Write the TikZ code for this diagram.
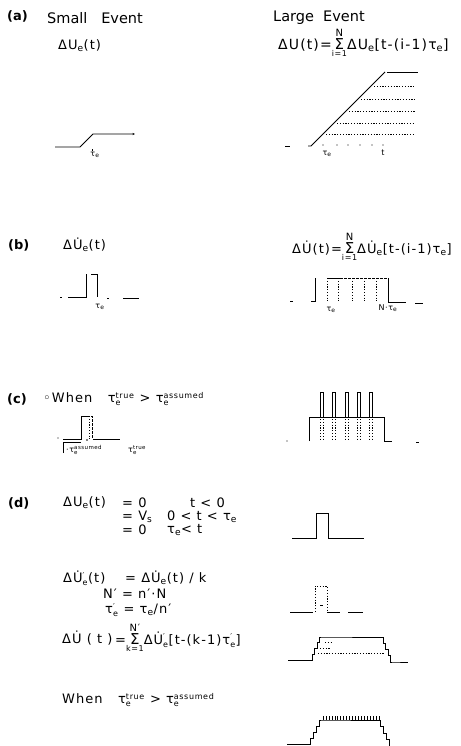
\documentclass[tikz,border=0pt]{standalone}
\usepackage{fontspec}
\setmainfont{DejaVu Sans}
\newfontfamily\ff[LetterSpace=8]{DejaVu Sans}
\usetikzlibrary{arrows.meta}
\newcommand{\sbx}[1]{\textsubscript{#1}}
\newcommand{\spsb}[2]{$^{\hbox{\fontsize{8}{8}\selectfont #1}}_{\hbox{\fontsize{8}{8}\selectfont #2}}$}
\newcommand{\spsbs}[2]{$^{\hbox{\fontsize{5.5}{6}\selectfont #1}}_{\hbox{\fontsize{5.5}{6}\selectfont #2}}$}
\newcommand{\lsum}[2]{$\mathop{\hbox{\fontsize{15}{15}\selectfont Σ}}\limits^{\hbox{\fontsize{10}{10}\selectfont #2}}_{\hbox{\fontsize{8}{8}\selectfont #1}}$}
\begin{document}
\begin{tikzpicture}[x=1pt,y=-1pt,
  wave/.style={line width=0.9pt},
  dots/.style={line width=0.6pt, dash pattern=on 1.2pt off 1.6pt},
  dsh/.style={line width=0.6pt, dash pattern=on 2.5pt off 1.5pt},
  tck/.style={line width=0.6pt},
  hd/.style={font=\fontsize{14.5}{16}\selectfont, inner sep=0pt, anchor=west},
  tag/.style={font=\bfseries\fontsize{13}{15}\selectfont, inner sep=0pt, anchor=west},
  eq/.style={font=\ff\fontsize{13}{15}\selectfont, inner sep=0pt, anchor=west},
  sm/.style={font=\ff\fontsize{8}{9}\selectfont, inner sep=0pt},
]
\fill[white] (0,0) rectangle (460,746);
\useasboundingbox (0,0) rectangle (460,746);

% ---------- (a)
\node[tag] (ta) at (7,16) {(a)};
\node[hd] (se) at (47,18) {Small\ \ \ Event};
\node[hd] (le) at (273,18) {Large\ \ Event};
\node[eq] (fa1) at (58,46) {ΔU\sbx{e}(t)};
\node[eq,font=\ff\fontsize{14}{16}\selectfont] (fa2) at (278,43) {ΔU(t)=\lsum{i=1}{N}ΔU\sbx{e}[t-(i-1)τ\sbx{e}]};

\draw[wave,-{Stealth[length=2.5pt,width=2pt]}] (55,147) -- (80,147) -- (93,134) -- (135,134);
\draw[tck] (92.5,149.5) -- (92.5,151);
\node[sm] (tau1) at (95,155) {τ\sbx{e}};

\draw[wave] (285,146) -- (290,146);
\draw[wave] (308,146) -- (311,146) -- (385,72);
\draw[wave] (387,72) -- (418,72);
\foreach \y in {86,99,111,123,134} \draw[dots] ({460-\y},\y) -- (415,\y);
\foreach \x in {323,337,348,360,372,383} \fill (\x,145) circle (0.6);
\node[sm] (tau2) at (327,154) {τ\sbx{e}};
\node[sm] (tlab) at (383,153) {t};

% ---------- (b)
\node[tag] (tb) at (8,245) {(b)};
\node[eq] (fb1) at (63,245) {ΔU̇\sbx{e}(t)};
\node[eq] (fb2) at (292,247) {ΔU̇(t)=\lsum{i=1}{N}ΔU̇\sbx{e}[t-(i-1)τ\sbx{e}]};

\draw[wave] (60,297) -- (62,297);
\draw[wave] (68,297) -- (86,297) -- (86,274);
\draw[wave] (91,274) -- (97,274) -- (97,297);
\draw[wave] (107,298) -- (109,298);
\draw[wave] (123,298) -- (139,298);
\node[sm] (tau3) at (100,307) {τ\sbx{e}};

\draw[wave] (290,301) -- (293,301);
\draw[wave] (311,301) -- (315,301) -- (315,278);
\draw[dsh] (340,278) -- (388,278);
\draw[wave] (327,278) -- (340,278);
\foreach \x in {327,338,352,364,376} \draw[dots] (\x,278) -- (\x,301);
\draw[wave] (388,278) -- (388,302) -- (406,302);
\draw[wave] (415,303) -- (423,303);
\node[sm] (tau4) at (331,310) {τ\sbx{e}};
\node[sm] (ntau) at (388,308) {N·τ\sbx{e}};

% ---------- (c)
\node[tag] (tc) at (7,399) {(c)};
\node[eq] (fc1) at (43,399) {◦When\ \ \ τ\spsb{true}{e} > τ\spsb{assumed}{e}};

\fill (58,438) circle (0.6);
\draw[wave] (63,439) -- (81,439) -- (81,416) -- (87,416);
\draw[dsh] (87,416) -- (92,416) -- (92,439);
\draw[dots] (89,416) -- (89,439);
\fill (87,440) circle (0.9);
\draw[wave] (93,439) -- (120,439);
\draw[tck] (63,453) -- (63,442) -- (81,442);
\node[sm,anchor=west] (tass) at (66,450) {·τ\spsbs{assumed}{e}};
\node[sm,anchor=west] (ttrue) at (128,450) {τ\spsbs{true}{e}};

\fill (287,441) circle (0.6);
\draw[wave] (309,441) -- (309,417) -- (384,417) -- (384,441) -- (392,441);
\draw[wave] (416,442) -- (419,442);
\foreach \x in {320,332.5,345,357,369} {
  \draw[wave] (\x,417) -- (\x,392) -- (\x+3,392) -- (\x+3,417);
  \draw[dots] (\x,419) -- (\x,441);
  \draw[dots] (\x+3,419) -- (\x+3,441);
}

% ---------- (d)
\node[tag] (td) at (8,503) {(d)};
\node[eq] (d1a) at (63,503) {ΔU\sbx{e}(t)};
\node[eq] (d1b) at (122,503) {= 0};
\node[eq] (d1c) at (190,503) {t < 0};
\node[eq] (d2b) at (122,517) {= V\sbx{s}};
\node[eq] (d2c) at (167,517) {0 < t < τ\sbx{e}};
\node[eq] (d3b) at (122,530) {= 0};
\node[eq] (d3c) at (167,530) {τ\sbx{e}< t};
\node[eq] (d4a) at (63,578) {ΔU̇\spsb{′}{e}(t)};
\node[eq] (d4b) at (125,578) {= ΔU̇\sbx{e}(t) / k};
\node[eq] (d5) at (103,594) {N′ = n′·N};
\node[eq] (d6) at (105,610) {τ\spsb{′}{e} = τ\sbx{e}/n′};
\node[eq] (d7a) at (62,638) {ΔU̇ ( t )};
\node[eq] (d7b) at (115,638) {=\lsum{k=1}{N′}ΔU̇\spsb{′}{e}[t-(k-1)τ\spsb{′}{e}]};
\node[eq] (d8) at (62,700) {When\ \ \ τ\spsb{true}{e} > τ\spsb{assumed}{e}};

\draw[wave] (292,538) -- (316,538) -- (316,513) -- (328,513) -- (328,538) -- (364,538);

\draw[wave] (290,612) -- (313,612);
\draw[dots] (315,612) -- (315,586) -- (327,586) -- (327,612);
\draw[wave] (327,612) -- (340,612);
\draw[wave] (348,612) -- (363,612);
\draw[tck] (320,605) -- (323,605);

\draw[wave] (288,660) -- (312,660)
  -- ++(0,-5.75) -- ++(2.5,0) -- ++(0,-5.75) -- ++(2.5,0)
  -- ++(0,-5.75) -- ++(2.5,0) -- ++(0,-5.75) -- (322,637) -- (383,637)
  -- ++(0,6.25) -- ++(2.5,0) -- ++(0,6.25) -- ++(2.5,0)
  -- ++(0,6.25) -- ++(2.5,0) -- ++(0,6.25) -- (393,662) -- (408,662);
\draw[dots] (318,653) -- (385,653);
\draw[dots] (320,648) -- (330,648);
\draw[dots] (325,642) -- (333,642);

\draw[wave] (287,744) -- (310,744)
  -- ++(0,-6) -- ++(3,0) -- ++(0,-6) -- ++(3,0)
  -- ++(0,-6) -- ++(3,0) -- ++(0,-6) -- (322,720) -- (380,720)
  -- ++(0,6.5) -- ++(3,0) -- ++(0,6.5) -- ++(3,0)
  -- ++(0,6.5) -- ++(3,0) -- ++(0,6.5) -- (392,746);
\foreach \i in {0,...,19} \draw[tck] ({323+\i*2.95},716) -- ({323+\i*2.95},720);
\end{tikzpicture}
\end{document}
